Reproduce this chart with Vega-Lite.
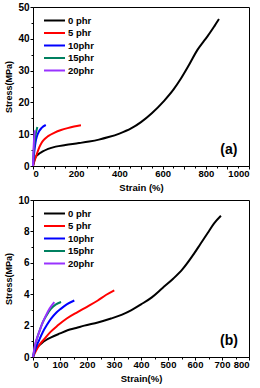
{
  "$schema": "https://vega.github.io/schema/vega-lite/v6.json",
  "padding": {"left": 4, "top": 1, "right": 0, "bottom": 0},
  "background": "white",
  "spacing": 1,
  "config": {
    "font": "Liberation Sans",
    "view": {"stroke": "black", "strokeWidth": 1},
    "axis": {"grid": false, "domainColor": "black", "tickColor": "black", "domainWidth": 1, "tickWidth": 1, "tickSize": 3, "labelPadding": 1, "labelFont": "Liberation Sans", "labelFontWeight": "bold", "labelColor": "black", "titleFont": "Liberation Sans", "titleFontWeight": "bold", "titleColor": "black", "format": "d"},
    "axisX": {"labelFontSize": 9.5, "titleFontSize": 9.5, "titlePadding": 5, "labelPadding": -1},
    "axisY": {"labelFontSize": 10, "titleFontSize": 9, "titlePadding": 4},
    "legend": {"title": null, "orient": "none", "legendX": 15, "legendY": 7, "symbolType": "M-2,0H2", "symbolSize": 110, "symbolStrokeWidth": 2, "labelFontSize": 9.5, "labelFontWeight": "bold", "labelFont": "Liberation Sans", "labelColor": "black", "rowPadding": 1.5, "labelOffset": 7, "padding": 0}
  },
  "resolve": {"scale": {"color": "independent"}, "legend": {"color": "independent"}},
  "vconcat": [
    {
      "width": 216,
      "height": 159,
      "resolve": {"axis": {"x": "independent", "y": "independent"}},
      "layer": [
        {
          "data": {"values": [
            {"sample": "0 phr", "strain": 0, "stress": 0},
            {"sample": "0 phr", "strain": 4, "stress": 1.2},
            {"sample": "0 phr", "strain": 12, "stress": 2.8},
            {"sample": "0 phr", "strain": 25, "stress": 3.7},
            {"sample": "0 phr", "strain": 43, "stress": 4.5},
            {"sample": "0 phr", "strain": 70, "stress": 5.4},
            {"sample": "0 phr", "strain": 105, "stress": 6.1},
            {"sample": "0 phr", "strain": 150, "stress": 6.6},
            {"sample": "0 phr", "strain": 213, "stress": 7.2},
            {"sample": "0 phr", "strain": 260, "stress": 7.7},
            {"sample": "0 phr", "strain": 305, "stress": 8.3},
            {"sample": "0 phr", "strain": 350, "stress": 9.1},
            {"sample": "0 phr", "strain": 400, "stress": 10.2},
            {"sample": "0 phr", "strain": 454, "stress": 11.8},
            {"sample": "0 phr", "strain": 500, "stress": 13.8},
            {"sample": "0 phr", "strain": 550, "stress": 16.6},
            {"sample": "0 phr", "strain": 607, "stress": 20.5},
            {"sample": "0 phr", "strain": 650, "stress": 24.0},
            {"sample": "0 phr", "strain": 685, "stress": 27.5},
            {"sample": "0 phr", "strain": 720, "stress": 31.5},
            {"sample": "0 phr", "strain": 762, "stress": 36.6},
            {"sample": "0 phr", "strain": 790, "stress": 39.2},
            {"sample": "0 phr", "strain": 810, "stress": 41},
            {"sample": "0 phr", "strain": 840, "stress": 44},
            {"sample": "0 phr", "strain": 861, "stress": 46.2},
            {"sample": "5 phr", "strain": 0, "stress": 0},
            {"sample": "5 phr", "strain": 5, "stress": 1.2},
            {"sample": "5 phr", "strain": 12, "stress": 2.6},
            {"sample": "5 phr", "strain": 20, "stress": 4.2},
            {"sample": "5 phr", "strain": 30, "stress": 6},
            {"sample": "5 phr", "strain": 40, "stress": 7.3},
            {"sample": "5 phr", "strain": 50, "stress": 8.2},
            {"sample": "5 phr", "strain": 70, "stress": 9.4},
            {"sample": "5 phr", "strain": 100, "stress": 10.5},
            {"sample": "5 phr", "strain": 130, "stress": 11.3},
            {"sample": "5 phr", "strain": 160, "stress": 11.9},
            {"sample": "5 phr", "strain": 190, "stress": 12.4},
            {"sample": "5 phr", "strain": 222, "stress": 12.8},
            {"sample": "10phr", "strain": 0, "stress": 0},
            {"sample": "10phr", "strain": 3, "stress": 2.5},
            {"sample": "10phr", "strain": 7, "stress": 5},
            {"sample": "10phr", "strain": 12, "stress": 7.5},
            {"sample": "10phr", "strain": 18, "stress": 9.3},
            {"sample": "10phr", "strain": 28, "stress": 10.9},
            {"sample": "10phr", "strain": 40, "stress": 12},
            {"sample": "10phr", "strain": 59, "stress": 12.9},
            {"sample": "15phr", "strain": 0, "stress": 0},
            {"sample": "15phr", "strain": 2, "stress": 3},
            {"sample": "15phr", "strain": 5, "stress": 6},
            {"sample": "15phr", "strain": 9, "stress": 8.5},
            {"sample": "15phr", "strain": 14, "stress": 10.5},
            {"sample": "15phr", "strain": 20, "stress": 12.3},
            {"sample": "20phr", "strain": 0, "stress": 0},
            {"sample": "20phr", "strain": 1, "stress": 3},
            {"sample": "20phr", "strain": 3, "stress": 6},
            {"sample": "20phr", "strain": 5, "stress": 8.5},
            {"sample": "20phr", "strain": 7, "stress": 10.2},
            {"sample": "20phr", "strain": 9, "stress": 11.2}
          ]},
          "mark": {"type": "line", "strokeWidth": 2, "interpolate": "monotone"},
          "encoding": {
            "x": {"field": "strain", "type": "quantitative", "scale": {"domain": [0, 1000], "nice": false}, "axis": {"values": [0, 100, 200, 300, 400, 500, 600, 700, 800, 900, 1000], "title": "Strain (%)", "orient": "bottom"}},
            "y": {"field": "stress", "type": "quantitative", "scale": {"domain": [0, 50], "nice": false}, "axis": {"values": [0, 10, 20, 30, 40, 50], "title": "Stress(MPa)", "orient": "left"}},
            "color": {"field": "sample", "type": "nominal", "scale": {"domain": ["0 phr", "5 phr", "10phr", "15phr", "20phr"], "range": ["#000000", "#ff0000", "#0000ff", "#008060", "#9933ff"]}}
          }
        },
        {
          "data": {"values": [{"strain": 907, "stress": 5, "label": "(a)"}]},
          "mark": {"type": "text", "fontSize": 14, "fontWeight": "bold", "font": "Liberation Sans", "color": "black"},
          "encoding": {
            "x": {"field": "strain", "type": "quantitative", "scale": {"domain": [0, 1000], "nice": false}, "axis": {"values": [50, 150, 250, 350, 450, 550, 650, 750, 850, 950], "labels": false, "title": null, "domain": false, "tickSize": 2, "orient": "bottom"}},
            "y": {"field": "stress", "type": "quantitative", "scale": {"domain": [0, 50], "nice": false}, "axis": {"values": [5, 15, 25, 35, 45], "labels": false, "title": null, "domain": false, "tickSize": 2, "orient": "left"}},
            "text": {"field": "label"}
          }
        }
      ]
    },
    {
      "width": 216,
      "height": 157,
      "resolve": {"axis": {"x": "independent", "y": "independent"}},
      "layer": [
        {
          "data": {"values": [
            {"sample": "0 phr", "strain": 0, "stress": 0},
            {"sample": "0 phr", "strain": 5, "stress": 0.3},
            {"sample": "0 phr", "strain": 15, "stress": 0.6},
            {"sample": "0 phr", "strain": 30, "stress": 0.85},
            {"sample": "0 phr", "strain": 50, "stress": 1.1},
            {"sample": "0 phr", "strain": 67, "stress": 1.25},
            {"sample": "0 phr", "strain": 100, "stress": 1.5},
            {"sample": "0 phr", "strain": 128, "stress": 1.7},
            {"sample": "0 phr", "strain": 160, "stress": 1.85},
            {"sample": "0 phr", "strain": 190, "stress": 2.0},
            {"sample": "0 phr", "strain": 240, "stress": 2.2},
            {"sample": "0 phr", "strain": 289, "stress": 2.45},
            {"sample": "0 phr", "strain": 330, "stress": 2.7},
            {"sample": "0 phr", "strain": 363, "stress": 2.97},
            {"sample": "0 phr", "strain": 400, "stress": 3.35},
            {"sample": "0 phr", "strain": 440, "stress": 3.8},
            {"sample": "0 phr", "strain": 480, "stress": 4.4},
            {"sample": "0 phr", "strain": 520, "stress": 5.0},
            {"sample": "0 phr", "strain": 554, "stress": 5.6},
            {"sample": "0 phr", "strain": 597, "stress": 6.6},
            {"sample": "0 phr", "strain": 620, "stress": 7.2},
            {"sample": "0 phr", "strain": 647, "stress": 7.9},
            {"sample": "0 phr", "strain": 670, "stress": 8.5},
            {"sample": "0 phr", "strain": 696, "stress": 9.0},
            {"sample": "5 phr", "strain": 0, "stress": 0},
            {"sample": "5 phr", "strain": 11, "stress": 0.4},
            {"sample": "5 phr", "strain": 25, "stress": 0.8},
            {"sample": "5 phr", "strain": 42, "stress": 1.15},
            {"sample": "5 phr", "strain": 65, "stress": 1.6},
            {"sample": "5 phr", "strain": 91, "stress": 2.0},
            {"sample": "5 phr", "strain": 125, "stress": 2.45},
            {"sample": "5 phr", "strain": 165, "stress": 2.86},
            {"sample": "5 phr", "strain": 200, "stress": 3.2},
            {"sample": "5 phr", "strain": 240, "stress": 3.6},
            {"sample": "5 phr", "strain": 270, "stress": 3.95},
            {"sample": "5 phr", "strain": 301, "stress": 4.25},
            {"sample": "10phr", "strain": 0, "stress": 0},
            {"sample": "10phr", "strain": 11, "stress": 0.6},
            {"sample": "10phr", "strain": 22, "stress": 1.05},
            {"sample": "10phr", "strain": 36, "stress": 1.58},
            {"sample": "10phr", "strain": 50, "stress": 2.0},
            {"sample": "10phr", "strain": 67, "stress": 2.44},
            {"sample": "10phr", "strain": 85, "stress": 2.8},
            {"sample": "10phr", "strain": 104, "stress": 3.08},
            {"sample": "10phr", "strain": 125, "stress": 3.35},
            {"sample": "10phr", "strain": 153, "stress": 3.6},
            {"sample": "15phr", "strain": 0, "stress": 0},
            {"sample": "15phr", "strain": 11, "stress": 0.95},
            {"sample": "15phr", "strain": 25, "stress": 1.7},
            {"sample": "15phr", "strain": 36, "stress": 2.2},
            {"sample": "15phr", "strain": 50, "stress": 2.65},
            {"sample": "15phr", "strain": 67, "stress": 3.08},
            {"sample": "15phr", "strain": 85, "stress": 3.35},
            {"sample": "15phr", "strain": 104, "stress": 3.5},
            {"sample": "20phr", "strain": 0, "stress": 0},
            {"sample": "20phr", "strain": 8, "stress": 0.8},
            {"sample": "20phr", "strain": 15, "stress": 1.2},
            {"sample": "20phr", "strain": 23, "stress": 1.6},
            {"sample": "20phr", "strain": 35, "stress": 2.15},
            {"sample": "20phr", "strain": 48, "stress": 2.65},
            {"sample": "20phr", "strain": 62, "stress": 3.1},
            {"sample": "20phr", "strain": 79, "stress": 3.5}
          ]},
          "mark": {"type": "line", "strokeWidth": 2, "interpolate": "monotone"},
          "encoding": {
            "x": {"field": "strain", "type": "quantitative", "scale": {"domain": [0, 800], "nice": false}, "axis": {"values": [0, 100, 200, 300, 400, 500, 600, 700, 800], "title": "Strain(%)", "orient": "bottom"}},
            "y": {"field": "stress", "type": "quantitative", "scale": {"domain": [0, 10], "nice": false}, "axis": {"values": [0, 2, 4, 6, 8, 10], "title": "Stress(MPa)", "orient": "left"}},
            "color": {"field": "sample", "type": "nominal", "scale": {"domain": ["0 phr", "5 phr", "10phr", "15phr", "20phr"], "range": ["#000000", "#ff0000", "#0000ff", "#008060", "#9933ff"]}}
          }
        },
        {
          "data": {"values": [{"strain": 726, "stress": 1.0, "label": "(b)"}]},
          "mark": {"type": "text", "fontSize": 14, "fontWeight": "bold", "font": "Liberation Sans", "color": "black"},
          "encoding": {
            "x": {"field": "strain", "type": "quantitative", "scale": {"domain": [0, 800], "nice": false}, "axis": {"values": [50, 150, 250, 350, 450, 550, 650, 750], "labels": false, "title": null, "domain": false, "tickSize": 2, "orient": "bottom"}},
            "y": {"field": "stress", "type": "quantitative", "scale": {"domain": [0, 10], "nice": false}, "axis": {"values": [1, 3, 5, 7, 9], "labels": false, "title": null, "domain": false, "tickSize": 2, "orient": "left"}},
            "text": {"field": "label"}
          }
        }
      ]
    }
  ]
}
